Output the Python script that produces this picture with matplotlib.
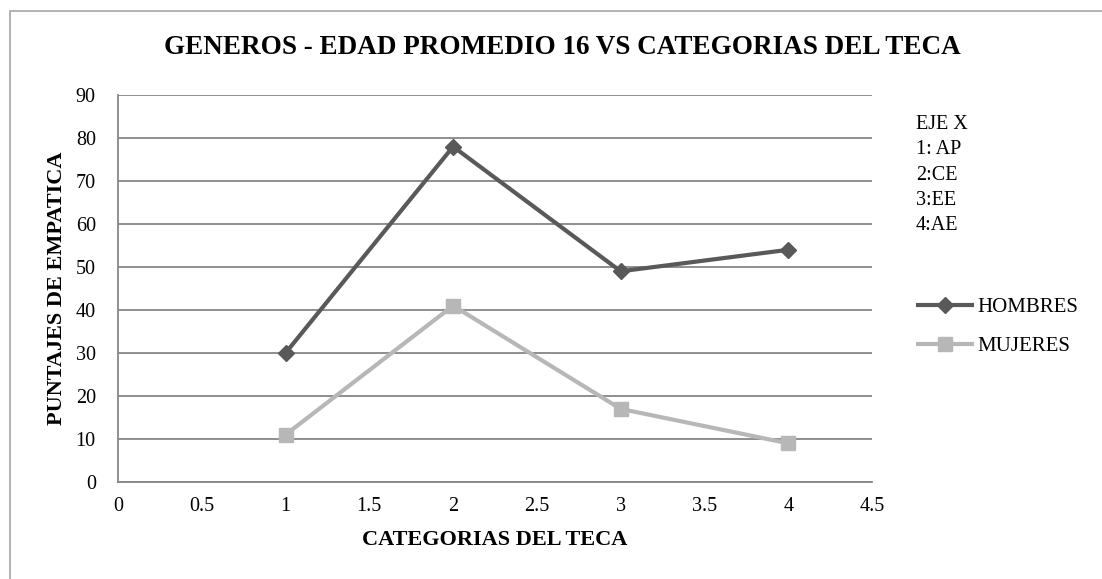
import matplotlib
matplotlib.use('Agg')
import matplotlib.pyplot as plt
from matplotlib.patches import Rectangle

# data
categorias = [1, 2, 3, 4]
hombres = [30, 78, 49, 54]
mujeres = [11, 41, 17, 9]
nota_eje = ['EJE X', '1: AP', '2:CE', '3:EE', '4:AE']

plt.rcParams['font.family'] = ['Liberation Serif', 'DejaVu Serif']

W, H = 1102, 579
fig = plt.figure(figsize=(W / 100, H / 100), dpi=100)
ax = fig.add_axes([118 / W, 1 - 482 / H, (872 - 118) / W, (482 - 95) / H])

# outer chart border (only top/left visible in the crop)
fig.patches.append(Rectangle((10 / W, -0.1), 1.2, 1 - 11 / H + 0.1,
                             transform=fig.transFigure, fill=False,
                             edgecolor='#a6a6a6', linewidth=1.2))

ax.plot(categorias, hombres, color='#595959', linewidth=3, marker='D',
        markersize=8, label='HOMBRES', zorder=3)
ax.plot(categorias, mujeres, color='#b7b7b7', linewidth=3, marker='s',
        markersize=10, label='MUJERES', zorder=3)

ax.set_xlim(0, 4.5)
ax.set_ylim(0, 90)
ax.set_xticks([0, 0.5, 1, 1.5, 2, 2.5, 3, 3.5, 4, 4.5])
ax.set_xticklabels(['0', '0.5', '1', '1.5', '2', '2.5', '3', '3.5', '4', '4.5'])
ax.set_yticks(range(0, 91, 10))
ax.grid(axis='y', color='#868686', linewidth=1.3)
ax.set_axisbelow(True)
ax.tick_params(length=0, labelsize=14.5, pad=11)
ax.tick_params(axis='y', pad=16)
for s in ['top', 'right']:
    ax.spines[s].set_visible(False)
for s in ['left', 'bottom']:
    ax.spines[s].set_color('#868686')
    ax.spines[s].set_linewidth(1.3)

ax.set_xlabel('CATEGORIAS DEL TECA', fontsize=16, fontweight='bold', labelpad=10)
ax.set_ylabel('PUNTAJES DE EMPATICA', fontsize=16, fontweight='bold', labelpad=6)

fig.text(562 / W, 1 - 47 / H, 'GENEROS - EDAD PROMEDIO 16 VS CATEGORIAS DEL TECA',
         ha='center', va='center', fontsize=19.5, fontweight='bold')

fig.text(916 / W, 1 - 115 / H, '\n'.join(nota_eje), ha='left', va='top',
         fontsize=14.5, linespacing=1.45)

fig.legend(loc='center left', bbox_to_anchor=(918 / W, 1 - 327 / H),
           frameon=False, fontsize=15, handlelength=2.6, handletextpad=0.25,
           labelspacing=0.95, borderpad=0, borderaxespad=0)

fig.savefig('out.png', dpi=100)
